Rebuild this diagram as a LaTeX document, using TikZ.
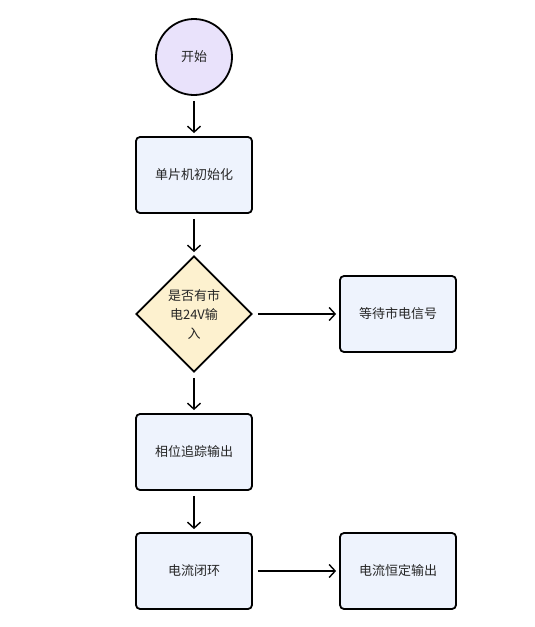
\documentclass[tikz,border=0pt]{standalone}
\usepackage{fontspec}
\setmainfont{Noto Sans CJK SC}
\usetikzlibrary{shapes.geometric,arrows.meta}
\definecolor{StartFill}{HTML}{E9E2FB}
\definecolor{StepFill}{HTML}{EEF3FD}
\definecolor{CheckFill}{HTML}{FDF1CF}
\definecolor{TextGray}{HTML}{262626}
\begin{document}
\begin{tikzpicture}[
    x=1pt,y=-1pt,
    every node/.style={font=\fontsize{13}{19}\selectfont,text=TextGray},
    startnode/.style={circle,draw=black,line width=1.8pt,fill=StartFill,minimum size=76pt,inner sep=0pt},
    stepbox/.style={rectangle,draw=black,line width=1.8pt,fill=StepFill,rounded corners=4pt,
        minimum width=116pt,minimum height=76pt,inner sep=0pt},
    checknode/.style={diamond,draw=black,line width=1.8pt,fill=CheckFill,minimum size=116pt,
        inner sep=0pt,align=center,text width=58pt},
    flowarrow/.style={line width=1.4pt,-{Straight Barb[length=6pt,width=13pt,line width=1.4pt]},
        shorten <=5pt,shorten >=3pt}
]

% Page background
\useasboundingbox (0,0) rectangle (535,627);
\fill[white] (0,0) rectangle (535,627);

% =====================================================
% MAIN FLOW
% =====================================================
\node[startnode] (start) at (194,57) {开始};
\node[stepbox] (init) at (194,175) {单片机初始化};
\node[checknode] (check) at (194,314) {是否有市\\电24V输\\入};
\node[stepbox] (track) at (194,452) {相位追踪输出};
\node[stepbox] (loop) at (194,571) {电流闭环};

% =====================================================
% SIDE BRANCHES
% =====================================================
\node[stepbox] (wait) at (398,314) {等待市电信号};
\node[stepbox] (const) at (398,571) {电流恒定输出};

% Connectors
\draw[flowarrow] (start) -- (init);
\draw[flowarrow] (init) -- (check);
\draw[flowarrow] (check) -- (track);
\draw[flowarrow] (track) -- (loop);
\draw[flowarrow] (check) -- (wait);
\draw[flowarrow] (loop) -- (const);

\end{tikzpicture}
\end{document}
